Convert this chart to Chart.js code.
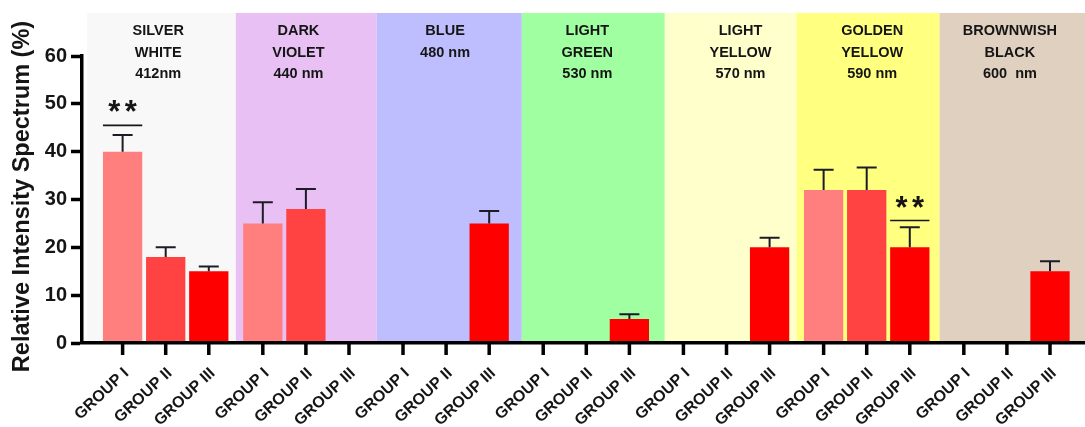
<!DOCTYPE html>
<html>
<head>
<meta charset="utf-8">
<script src="https://cdn.jsdelivr.net/npm/chart.js@4/dist/chart.umd.min.js"></script>
<style>
  html, body { margin: 0; padding: 0; background: #fff; }
  canvas { display: block; }
</style>
</head>
<body>
<canvas id="chart" width="1085" height="427"></canvas>
<script>
// ---- data ----
const bands = ['SILVER WHITE', 'DARK VIOLET', 'BLUE', 'LIGHT GREEN', 'LIGHT YELLOW', 'GOLDEN YELLOW', 'BROWNWISH BLACK'];
const bandCaptions = [
  ['SILVER', 'WHITE', '412nm'],
  ['DARK', 'VIOLET', '440 nm'],
  ['BLUE', '480 nm'],
  ['LIGHT', 'GREEN', '530 nm'],
  ['LIGHT', 'YELLOW', '570 nm'],
  ['GOLDEN', 'YELLOW', '590 nm'],
  ['BROWNWISH', 'BLACK', '600  nm']
];
const groups = ['GROUP I', 'GROUP II', 'GROUP III'];

const groupI   = [40, 25, 0, 0, 0, 32, 0];
const groupII  = [18, 28, 0, 0, 0, 32, 0];
const groupIII = [15, 0, 25, 5, 20, 20, 15];

// upper error (SD) per bar; null where no bar is shown
const errI   = [3.5, 4.4, null, null, null, 4.2, null];
const errII  = [2.0, 4.2, null, null, null, 4.7, null];
const errIII = [1.0, null, 2.6, 1.0, 2.0, 4.2, 2.1];

const yTicks = [0, 10, 20, 30, 40, 50, 60];

// significance brackets: band index, group index, bracket level, label
const sigBand  = [0, 5];
const sigGroup = [0, 2];
const sigLevel = [45.5, 25.6];
const sigText  = ['**', '**'];

const yTitle = 'Relative Intensity Spectrum (%)';

// ---- styling / layout ----
const FONT = '"Liberation Sans", Arial, Helvetica, sans-serif';
const INK = '#151515';
const BAR_COLORS = ['#FF7F7F', '#FF4242', '#FF0000'];
const BAND_COLORS = ['#F8F8F8', '#E8C0F4', '#BEBEFF', '#A0FFA0', '#FFFFCC', '#FFFF80', '#DFD0C0'];
// band boundaries on the x scale (band k spans BAND_EDGES[k]..BAND_EDGES[k+1])
const X_MIN = -0.597, X_MAX = 6.557;
const BAND_EDGES = [-0.56, 0.5, 1.505, 2.54, 3.56, 4.5, 5.52, X_MAX];
const BAND_TOP = 69;                 // bands reach above the 60 tick
const CAPTION_NUDGE = [-7.5, -7.5, -1, 1, 14, 5.5, 3];
const CAPTION_Y = [31, 52.5, 74];

const seriesValues = [groupI, groupII, groupIII];
const seriesErr = [errI, errII, errIII];

const datasets = seriesValues.map((vals, g) => ({
  label: groups[g],
  data: vals.map((v, k) => ({ x: k, y: v })),
  backgroundColor: BAR_COLORS[g],
  borderWidth: 0,
  categoryPercentage: 0.922,
  barPercentage: 0.912
}));

const decor = {
  id: 'decor',
  beforeDraw(chart) {
    const { ctx, chartArea, scales: { x, y } } = chart;
    ctx.save();
    ctx.fillStyle = '#fff';
    ctx.fillRect(0, 0, chart.width, chart.height);

    // coloured wavelength bands
    const top = y.getPixelForValue(BAND_TOP);
    for (let k = 0; k < bands.length; k++) {
      const x0 = x.getPixelForValue(BAND_EDGES[k]);
      const x1 = x.getPixelForValue(BAND_EDGES[k + 1]);
      ctx.fillStyle = BAND_COLORS[k];
      ctx.fillRect(x0, top, x1 - x0, chartArea.bottom - top);
    }

    // band captions
    ctx.fillStyle = INK;
    ctx.font = 'bold 14.5px ' + FONT;
    ctx.textAlign = 'center';
    ctx.textBaseline = 'middle';
    bandCaptions.forEach((lines, k) => {
      const cx = x.getPixelForValue(k) + CAPTION_NUDGE[k];
      lines.forEach((t, i) => ctx.fillText(t, cx, CAPTION_Y[i]));
    });
    ctx.restore();
  },
  afterDatasetsDraw(chart) {
    const { ctx, scales: { y } } = chart;
    ctx.save();
    // upper error bars
    ctx.strokeStyle = '#1c1c28';
    ctx.lineWidth = 2;
    seriesErr.forEach((errs, g) => {
      const meta = chart.getDatasetMeta(g);
      errs.forEach((e, k) => {
        if (e == null) return;
        const bar = meta.data[k];
        const v = seriesValues[g][k];
        const y0 = y.getPixelForValue(v);
        const y1 = y.getPixelForValue(v + e);
        ctx.beginPath();
        ctx.moveTo(bar.x, y0);
        ctx.lineTo(bar.x, y1);
        ctx.moveTo(bar.x - 10, y1);
        ctx.lineTo(bar.x + 10, y1);
        ctx.stroke();
      });
    });

    // significance markers
    sigBand.forEach((k, i) => {
      const bar = chart.getDatasetMeta(sigGroup[i]).data[k];
      const half = bar.width / 2;
      const ly = y.getPixelForValue(sigLevel[i]);
      ctx.strokeStyle = INK;
      ctx.lineWidth = 1.6;
      ctx.beginPath();
      ctx.moveTo(bar.x - half, ly);
      ctx.lineTo(bar.x + half, ly);
      ctx.stroke();
      ctx.fillStyle = INK;
      ctx.font = 'bold 31px ' + FONT;
      ctx.textAlign = 'center';
      ctx.textBaseline = 'alphabetic';
      const stars = sigText[i].split('');
      const gap = 16.5;
      stars.forEach((s, j) => {
        const sx = bar.x + (j - (stars.length - 1) / 2) * gap;
        ctx.fillText(s, sx, ly - 3);
      });
    });
    ctx.restore();
  },
  afterDraw(chart) {
    const { ctx, chartArea } = chart;
    ctx.save();
    // x tick marks and rotated group labels under every bar slot
    ctx.strokeStyle = '#000';
    ctx.lineWidth = 3.5;
    ctx.fillStyle = INK;
    ctx.font = 'bold 16px ' + FONT;
    ctx.textAlign = 'right';
    ctx.textBaseline = 'middle';
    groups.forEach((name, g) => {
      chart.getDatasetMeta(g).data.forEach((bar) => {
        ctx.beginPath();
        ctx.moveTo(bar.x, chartArea.bottom);
        ctx.lineTo(bar.x, chartArea.bottom + 12);
        ctx.stroke();
        ctx.save();
        ctx.translate(bar.x + 4, chartArea.bottom + 28);
        ctx.rotate(-43 * Math.PI / 180);
        ctx.fillText(name, 0, 0);
        ctx.restore();
      });
    });

    // y-axis title
    ctx.translate(23, 196.5);
    ctx.rotate(-Math.PI / 2);
    ctx.font = 'bold 23.5px ' + FONT;
    ctx.textAlign = 'center';
    ctx.textBaseline = 'middle';
    ctx.fillText(yTitle, 0, 0);
    ctx.restore();
  }
};

new Chart(document.getElementById('chart'), {
  type: 'bar',
  data: { datasets },
  options: {
    responsive: false,
    animation: false,
    events: [],
    layout: { padding: { top: 56, left: 0, right: 0, bottom: 0 } },
    plugins: { legend: { display: false }, tooltip: { enabled: false } },
    scales: {
      x: {
        type: 'linear',
        offset: false,
        min: X_MIN,
        max: X_MAX,
        ticks: { display: false, stepSize: 1, includeBounds: false },
        grid: { display: false },
        border: { display: true, color: '#000', width: 3.5, z: 1 },
        afterFit(s) { s.height = 84; }
      },
      y: {
        min: 0,
        max: 60,
        afterBuildTicks(s) { s.ticks = yTicks.map(v => ({ value: v })); },
        ticks: { font: { family: FONT, size: 20, weight: 'bold' }, color: INK, padding: 4 },
        grid: { display: true, drawOnChartArea: false, drawTicks: true, tickLength: 11, tickWidth: 3.5, tickColor: '#000' },
        border: { display: true, color: '#000', width: 3.5, z: 1 },
        afterFit(s) { s.width = 82; }
      }
    }
  },
  plugins: [decor]
});
</script>
</body>
</html>
